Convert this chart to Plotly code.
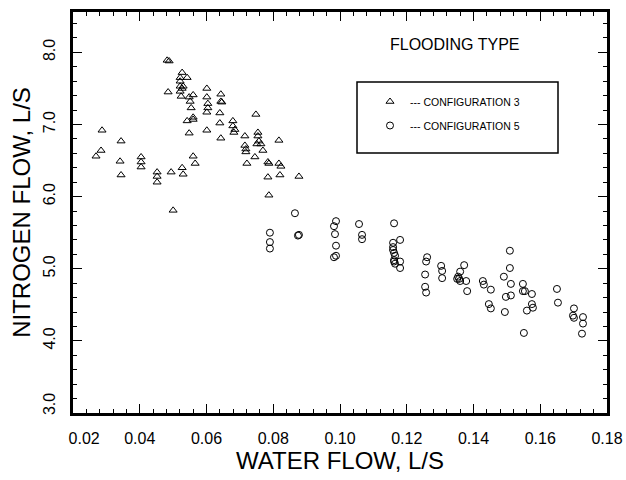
import plotly.graph_objects as go

# ---------------- data ----------------
config3_water = [
    0.0269, 0.0287, 0.0284, 0.0344, 0.0341, 0.0344, 0.0404, 0.0404, 0.0404, 0.0452,
    0.0452, 0.0452, 0.0482, 0.0488, 0.0485, 0.0494, 0.0500, 0.0527, 0.0521, 0.0521,
    0.0521, 0.0527, 0.0521, 0.0530, 0.0542, 0.0524, 0.0527, 0.0530, 0.0548, 0.0551,
    0.0560, 0.0554, 0.0560, 0.0560, 0.0542, 0.0548, 0.0560, 0.0566, 0.0601, 0.0601,
    0.0604, 0.0604, 0.0601, 0.0601, 0.0643, 0.0643, 0.0646, 0.0640, 0.0640, 0.0643,
    0.0679, 0.0679, 0.0685, 0.0682, 0.0715, 0.0715, 0.0718, 0.0718, 0.0721, 0.0748,
    0.0754, 0.0754, 0.0757, 0.0763, 0.0769, 0.0751, 0.0745, 0.0817, 0.0784, 0.0787,
    0.0817, 0.0823, 0.0784, 0.0820, 0.0877, 0.0787,
]
config3_nitrogen = [
    6.56, 6.92, 6.64, 6.77, 6.49, 6.30, 6.55, 6.48, 6.41, 6.34,
    6.28, 6.20, 7.89, 7.88, 7.45, 6.34, 5.81, 7.72, 7.65, 7.60,
    7.53, 7.50, 7.46, 7.53, 7.65, 7.39, 6.40, 6.31, 7.38, 7.32,
    7.41, 7.23, 7.10, 7.07, 7.05, 6.88, 6.56, 6.46, 7.50, 7.38,
    7.29, 7.23, 7.17, 6.92, 7.42, 7.32, 7.31, 7.16, 7.02, 6.81,
    7.05, 6.98, 6.93, 6.89, 6.84, 6.71, 6.66, 6.62, 6.46, 7.14,
    6.89, 6.84, 6.77, 6.73, 6.64, 6.73, 6.55, 6.78, 6.48, 6.46,
    6.46, 6.42, 6.27, 6.30, 6.28, 6.02,
]

config5_water = [
    0.0865, 0.0874, 0.0877, 0.0790, 0.0790, 0.0790, 0.0988, 0.0982, 0.0985, 0.0988,
    0.0982, 0.0988, 0.1057, 0.1066, 0.1066, 0.1162, 0.1159, 0.1159, 0.1159, 0.1162,
    0.1165, 0.1162, 0.1162, 0.1165, 0.1180, 0.1180, 0.1180, 0.1261, 0.1258, 0.1255,
    0.1255, 0.1258, 0.1303, 0.1306, 0.1306, 0.1372, 0.1360, 0.1354, 0.1357, 0.1360,
    0.1351, 0.1378, 0.1381, 0.1428, 0.1431, 0.1452, 0.1446, 0.1452, 0.1494, 0.1491,
    0.1509, 0.1509, 0.1512, 0.1497, 0.1512, 0.1548, 0.1548, 0.1554, 0.1575, 0.1575,
    0.1578, 0.1560, 0.1551, 0.1650, 0.1653, 0.1701, 0.1698, 0.1701, 0.1728, 0.1728,
    0.1725,
]
config5_nitrogen = [
    5.77, 5.46, 5.47, 5.50, 5.37, 5.28, 5.66, 5.59, 5.48, 5.32,
    5.16, 5.18, 5.62, 5.47, 5.41, 5.63, 5.36, 5.30, 5.26, 5.22,
    5.18, 5.12, 5.10, 5.07, 5.10, 5.01, 5.40, 5.16, 5.10, 4.92,
    4.75, 4.67, 5.04, 4.97, 4.87, 5.05, 4.96, 4.89, 4.86, 4.83,
    4.86, 4.83, 4.69, 4.83, 4.78, 4.71, 4.51, 4.45, 4.40, 4.89,
    5.25, 5.01, 4.79, 4.61, 4.63, 4.79, 4.69, 4.69, 4.65, 4.51,
    4.46, 4.42, 4.11, 4.72, 4.53, 4.45, 4.35, 4.32, 4.33, 4.24,
    4.10,
]

NB = "\u00a0"
x_tick_vals = [0.02, 0.04, 0.06, 0.08, 0.10, 0.12, 0.14, 0.16, 0.18]
x_tick_text = [NB * 5 + "0.02", "0.04", "0.06", "0.08", "0.10", "0.12", "0.14", "0.16", "0.18"]
y_tick_vals = [3.0, 4.0, 5.0, 6.0, 7.0, 8.0]
y_tick_text = [NB * 3 + "3.0", "4.0", "5.0", "6.0", "7.0", "8.0"]

series_names = ["--- CONFIGURATION 3", "--- CONFIGURATION 5"]

FONT = "Liberation Sans, Arial, Helvetica, sans-serif"

fig = go.Figure()
fig.add_trace(go.Scatter(
    x=config3_water, y=config3_nitrogen, mode="markers", name=series_names[0],
    legendgroup="g3",
    marker=dict(symbol="triangle-up-open", size=7, color="black", line=dict(width=1, color="black")),
))
fig.add_trace(go.Scatter(
    x=config5_water, y=config5_nitrogen, mode="markers", name=series_names[1],
    legendgroup="g5",
    marker=dict(symbol="circle-open", size=7, color="black", line=dict(width=1, color="black")),
))

L, R, T, B = 73, 19, 12, 67
W, H = 626, 480
pw, ph = W - L - R, H - T - B

def px_x(p):
    return (p - L) / pw

def px_y(p):
    return (H - B - p) / ph

axis_common = dict(
    showline=True, linewidth=2.5, linecolor="black", mirror="ticks",
    ticks="inside", ticklen=9, tickwidth=1, tickcolor="black",
    showgrid=False, zeroline=False, ticklabeloverflow="allow", automargin=False,
    tickfont=dict(family=FONT, size=16, color="black"),
)

fig.update_layout(
    width=W, height=H,
    margin=dict(l=L, r=R, t=T, b=B, autoexpand=False),
    paper_bgcolor="white", plot_bgcolor="white",
    font=dict(family=FONT, color="black"),
    xaxis=dict(
        range=[0.02, 0.18], tickvals=x_tick_vals, ticktext=x_tick_text,
        minor=dict(ticks="inside", ticklen=4, dtick=0.004, tick0=0.0, tickcolor="black", showgrid=False),
        ticklabelstandoff=9,
        title=dict(text="WATER FLOW, L/S", font=dict(family=FONT, size=24, color="black"), standoff=4),
        **axis_common,
    ),
    yaxis=dict(
        range=[3.0, 8.56], tickvals=y_tick_vals, ticktext=y_tick_text, tickangle=-90,
        minor=dict(ticks="inside", ticklen=4, dtick=0.2, tick0=0.0, tickcolor="black", showgrid=False),
        ticklabelstandoff=9,
        title=dict(text="NITROGEN FLOW, L/S", font=dict(family=FONT, size=24, color="black"), standoff=4),
        **axis_common,
    ),
    showlegend=True,
    legend=dict(
        x=px_x(370), y=px_y(87), xanchor="left", yanchor="top",
        bgcolor="rgba(0,0,0,0)", borderwidth=0,
        font=dict(family=FONT, size=10.5, color="black"),
        traceorder="grouped", tracegroupgap=5, itemwidth=30,
    ),
    shapes=[dict(
        type="rect", xref="paper", yref="paper",
        x0=px_x(357), x1=px_x(558), y0=px_y(153), y1=px_y(82),
        line=dict(color="black", width=1.5), fillcolor="rgba(0,0,0,0)",
    )],
    annotations=[dict(
        text="FLOODING TYPE", xref="paper", yref="paper",
        x=px_x(455), y=px_y(45), xanchor="center", yanchor="middle",
        showarrow=False, font=dict(family=FONT, size=16, color="black"),
    )],
)

fig.write_html("out.html")
